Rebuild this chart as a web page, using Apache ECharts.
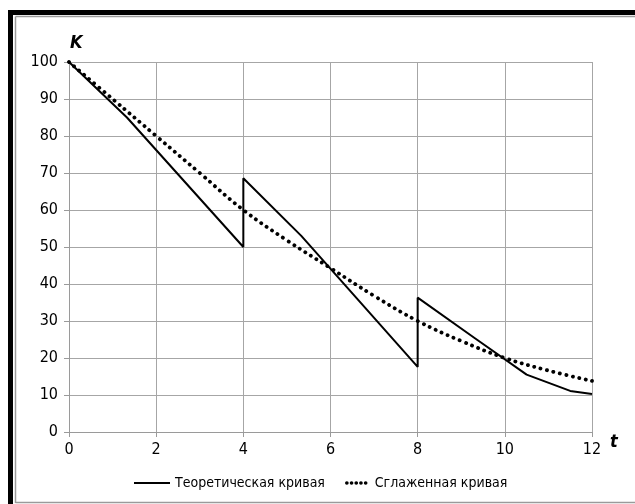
<!DOCTYPE html>
<html><head><meta charset="utf-8">
<script src="https://cdn.jsdelivr.net/npm/echarts@6/dist/echarts.min.js"></script>
<style>html,body{margin:0;padding:0;background:#fff}#c{width:635px;height:504px}</style>
</head><body><div id="c"></div>
<script>
// Data
const theoretical = [[0,100],[1.33,85],[4,50],[4,68.6],[5.33,53],[8,17.6],[8,36.3],[9.33,25.2],[10.5,15.5],[11.5,11.1],[12,10.3]];
const smoothed = [[0,100],[1,90],[2,80],[3,70],[4,60],[5,51.8],[6,44.3],[7,36.8],[8,30],[9,24.6],[10,20],[11,16.6],[12,13.8]];
const seriesNames = ['Теоретическая кривая','Сглаженная кривая'];
const xTicks = {min:0, max:12, interval:2};
const yTicks = {min:0, max:100, interval:10};

const FONT = "'DejaVu Sans Condensed','Liberation Sans Narrow','Arial Narrow',sans-serif";
const chart = echarts.init(document.getElementById('c'));
const legendText = {fontFamily:FONT,fontSize:14,color:'#000'};
chart.setOption({
  animation:false,
  backgroundColor:'#fff',
  textStyle:{fontFamily:FONT},
  grid:{left:69,right:43,top:62,bottom:72},
  legend:[
    {left:128, top:471, itemWidth:36, itemHeight:14, itemStyle:{opacity:0},
     textStyle:legendText, data:[seriesNames[0]], selectedMode:false},
    {left:340, top:471, itemWidth:23, itemHeight:14, itemStyle:{opacity:0},
     lineStyle:{type:[0.1,4.6],width:3.6,cap:'round'},
     textStyle:legendText, data:[seriesNames[1]], selectedMode:false}
  ],
  xAxis:{
    type:'value', min:xTicks.min, max:xTicks.max, interval:xTicks.interval,
    name:'t', nameLocation:'end', nameGap:18,
    nameTextStyle:{fontFamily:FONT,fontSize:18,fontWeight:'bold',fontStyle:'italic',color:'#000',verticalAlign:'top',padding:[1,0,0,0]},
    axisLine:{lineStyle:{color:'#9a9a9a',width:1}},
    axisTick:{show:true,length:5,lineStyle:{color:'#9a9a9a'}},
    axisLabel:{fontFamily:FONT,fontSize:16,color:'#000',margin:10},
    splitLine:{show:true,lineStyle:{color:'#a6a6a6',width:1}}
  },
  yAxis:{
    type:'value', min:yTicks.min, max:yTicks.max, interval:yTicks.interval,
    name:'K', nameLocation:'end', nameGap:10,
    nameTextStyle:{fontFamily:FONT,fontSize:18,fontWeight:'bold',fontStyle:'italic',color:'#000',align:'left',padding:[0,0,0,1]},
    axisLine:{show:true,lineStyle:{color:'#9a9a9a',width:1}},
    axisTick:{show:true,length:5,lineStyle:{color:'#9a9a9a'}},
    axisLabel:{fontFamily:FONT,fontSize:16,color:'#000',margin:11},
    splitLine:{show:true,lineStyle:{color:'#a6a6a6',width:1}}
  },
  series:[
    {name:seriesNames[0], type:'line', data:theoretical, symbol:'none', z:3,
     lineStyle:{color:'#000',width:2}, itemStyle:{color:'#000'}},
    {name:seriesNames[1], type:'line', data:smoothed, smooth:0.4, symbol:'none', z:4,
     lineStyle:{color:'#000',width:3.8,type:[0.1,6.5],cap:'round'}, itemStyle:{color:'#000'}}
  ],
  graphic:[
    {type:'rect',shape:{x:8,y:10,width:5,height:494},style:{fill:'#000'},silent:true},
    {type:'rect',shape:{x:8,y:10,width:627,height:5},style:{fill:'#000'},silent:true},
    {type:'line',shape:{x1:15.5,y1:16.5,x2:635,y2:16.5},style:{stroke:'#9a9a9a',lineWidth:1.5},silent:true},
    {type:'line',shape:{x1:15.5,y1:16.5,x2:15.5,y2:503},style:{stroke:'#9a9a9a',lineWidth:1.5},silent:true},
    {type:'line',shape:{x1:15.5,y1:502.5,x2:635,y2:502.5},style:{stroke:'#9a9a9a',lineWidth:1.5},silent:true}
  ]
});
</script></body></html>
